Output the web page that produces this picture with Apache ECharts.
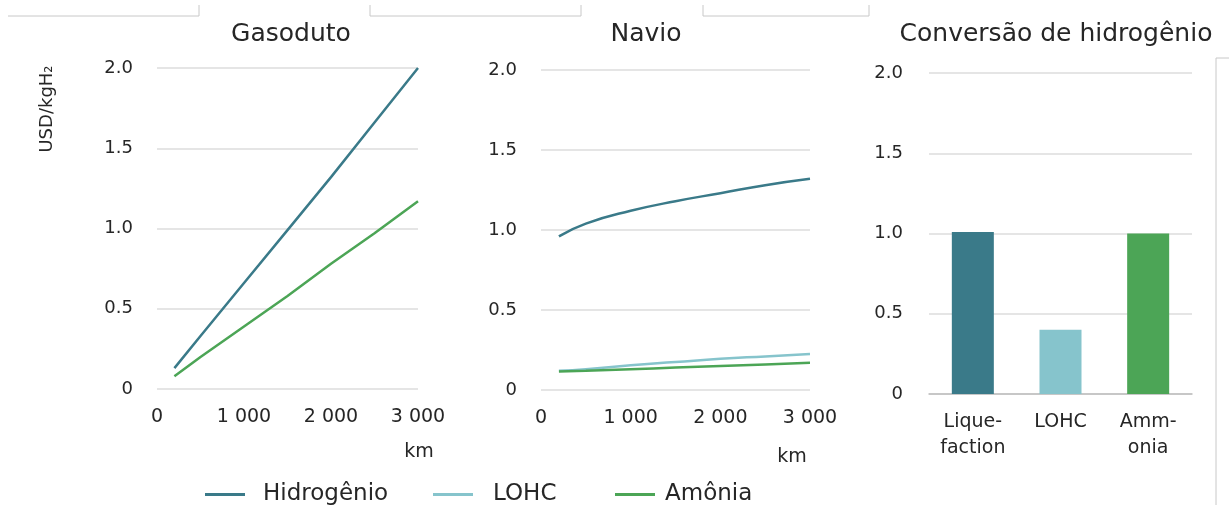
<!DOCTYPE html>
<html>
<head>
<meta charset="utf-8">
<title>Custos de transporte de hidrogênio</title>
<script src="https://cdn.jsdelivr.net/npm/echarts@6/dist/echarts.min.js"></script>
<style>
  html, body { margin: 0; padding: 0; background: #fff; }
  #chart { width: 1229px; height: 505px; }
</style>
</head>
<body>
<div id="chart"></div>
<script>
// distâncias (km) e custos (USD/kgH2)
var pipeDist = [200, 500, 1000, 1500, 2000, 2500, 3000];
var pipeHydrogen = [0.13, 0.33, 0.66, 0.99, 1.32, 1.66, 2.0];
var pipeAmmonia = [0.08, 0.2, 0.39, 0.58, 0.78, 0.97, 1.17];

var shipDist = [200, 500, 1000, 1500, 2000, 2500, 3000];
var shipHydrogen = [0.96, 1.04, 1.12, 1.18, 1.23, 1.28, 1.32];
var shipLohc = [0.12, 0.13, 0.155, 0.175, 0.195, 0.21, 0.225];
var shipAmmonia = [0.115, 0.12, 0.13, 0.14, 0.15, 0.16, 0.17];

var convCategories = ['Lique-\nfaction', 'LOHC', 'Amm-\nonia'];
var convValues = [1.01, 0.40, 1.00];

var panelTitles = ['Gasoduto', 'Navio', 'Conversão de hidrogênio'];
var seriesNames = ['Hidrogênio', 'LOHC', 'Amônia'];

var colors = {
  hydrogen: '#3a7a89',
  lohc: '#86c4cc',
  ammonia: '#4ca556'
};
var font = '"DejaVu Sans", "Open Sans", sans-serif';
var textColor = '#262626';

function pairs(xs, ys) {
  return xs.map(function (x, i) { return [x, ys[i]]; });
}

function kmLabel(v) {
  return v === 0 ? '0' : String(v).replace(/(\d)(?=(\d{3})+$)/g, '$1 ');
}

function yLabel(v) {
  return v === 0 ? '0' : v.toFixed(1);
}

var grids = [
  { left: 157, top: 68, width: 261, height: 321 },
  { left: 541, top: 70, width: 269, height: 320 },
  { left: 929, top: 73, width: 263, height: 321 }
];

function valueXAxis(gridIndex) {
  return {
    type: 'value',
    gridIndex: gridIndex,
    min: 0,
    max: 3000,
    interval: 1000,
    axisLine: { show: false },
    axisTick: { show: false },
    splitLine: { show: false },
    axisLabel: {
      formatter: kmLabel,
      margin: 19,
      fontSize: 19,
      fontFamily: font,
      color: textColor
    }
  };
}

function valueYAxis(gridIndex, margin) {
  return {
    type: 'value',
    gridIndex: gridIndex,
    min: 0,
    max: 2,
    interval: 0.5,
    axisLine: { show: false },
    axisTick: { show: false },
    splitLine: { lineStyle: { color: '#dcdcdc', width: 1.5 } },
    axisLabel: {
      formatter: yLabel,
      margin: margin,
      fontSize: 18,
      fontFamily: font,
      color: textColor
    }
  };
}

function lineSeries(name, xi, data, color, smooth) {
  return {
    name: name,
    type: 'line',
    xAxisIndex: xi,
    yAxisIndex: xi,
    data: data,
    smooth: smooth,
    showSymbol: false,
    symbol: 'none',
    lineStyle: { color: color, width: 2.5 },
    itemStyle: { color: color },
    z: 3
  };
}

function legendAt(name, left, gap) {
  return {
    data: [name],
    left: left,
    top: 478,
    icon: 'rect',
    itemWidth: 40,
    itemHeight: 3,
    textStyle: {
      fontSize: 23,
      fontFamily: font,
      color: textColor,
      padding: [0, 0, 0, gap]
    }
  };
}

function grayLine(x1, y1, x2, y2) {
  return {
    type: 'line',
    silent: true,
    shape: { x1: x1, y1: y1, x2: x2, y2: y2 },
    style: { stroke: '#c8c8c8', lineWidth: 1 }
  };
}

var chart = echarts.init(document.getElementById('chart'), null, { renderer: 'canvas' });

chart.setOption({
  backgroundColor: '#fff',
  animation: false,
  title: [
    { text: panelTitles[0], left: 286, top: 17, textAlign: 'center' },
    { text: panelTitles[1], left: 641, top: 17, textAlign: 'center' },
    { text: panelTitles[2], left: 1051, top: 17, textAlign: 'center' }
  ].map(function (t) {
    t.textStyle = { fontSize: 25, fontWeight: 'normal', fontFamily: font, color: textColor };
    return t;
  }),
  legend: [
    legendAt(seriesNames[0], 200, 13),
    legendAt(seriesNames[1], 428, 15),
    legendAt(seriesNames[2], 610, 5)
  ],
  grid: grids,
  xAxis: [
    valueXAxis(0),
    valueXAxis(1),
    {
      type: 'category',
      gridIndex: 2,
      data: convCategories,
      axisLine: { lineStyle: { color: '#bdbdbd', width: 1.5 } },
      axisTick: { show: false },
      axisLabel: {
        margin: 15,
        fontSize: 19,
        lineHeight: 26,
        fontFamily: font,
        color: textColor
      }
    }
  ],
  yAxis: [valueYAxis(0, 24), valueYAxis(1, 24), valueYAxis(2, 26)],
  series: [
    lineSeries(seriesNames[0], 0, pairs(pipeDist, pipeHydrogen), colors.hydrogen, false),
    lineSeries(seriesNames[2], 0, pairs(pipeDist, pipeAmmonia), colors.ammonia, false),
    lineSeries(seriesNames[0], 1, pairs(shipDist, shipHydrogen), colors.hydrogen, true),
    lineSeries(seriesNames[1], 1, pairs(shipDist, shipLohc), colors.lohc, true),
    lineSeries(seriesNames[2], 1, pairs(shipDist, shipAmmonia), colors.ammonia, true),
    {
      name: 'Conversão',
      type: 'bar',
      xAxisIndex: 2,
      yAxisIndex: 2,
      barWidth: 42,
      data: convValues.map(function (v, i) {
        var c = [colors.hydrogen, colors.lohc, colors.ammonia][i];
        return { value: v, itemStyle: { color: c } };
      })
    }
  ],
  graphic: [
    // eixo y e unidades de distância
    {
      type: 'text',
      x: 47,
      y: 109,
      rotation: Math.PI / 2,
      style: {
        text: 'USD/kgH₂',
        fontSize: 18,
        fontFamily: font,
        fill: textColor,
        align: 'center',
        verticalAlign: 'middle'
      }
    },
    {
      type: 'text',
      x: 419,
      y: 452,
      style: { text: 'km', fontSize: 19, fontFamily: font, fill: textColor, align: 'center', verticalAlign: 'middle' }
    },
    {
      type: 'text',
      x: 792,
      y: 457,
      style: { text: 'km', fontSize: 19, fontFamily: font, fill: textColor, align: 'center', verticalAlign: 'middle' }
    },
    // molduras das caixas de texto do documento original
    grayLine(8, 16, 199, 16),
    grayLine(199, 5, 199, 16),
    grayLine(370, 16, 581, 16),
    grayLine(370, 5, 370, 16),
    grayLine(581, 5, 581, 16),
    grayLine(703, 16, 869, 16),
    grayLine(703, 5, 703, 16),
    grayLine(869, 5, 869, 16),
    grayLine(1216, 58, 1229, 58),
    grayLine(1216, 58, 1216, 505)
  ]
});
</script>
</body>
</html>
